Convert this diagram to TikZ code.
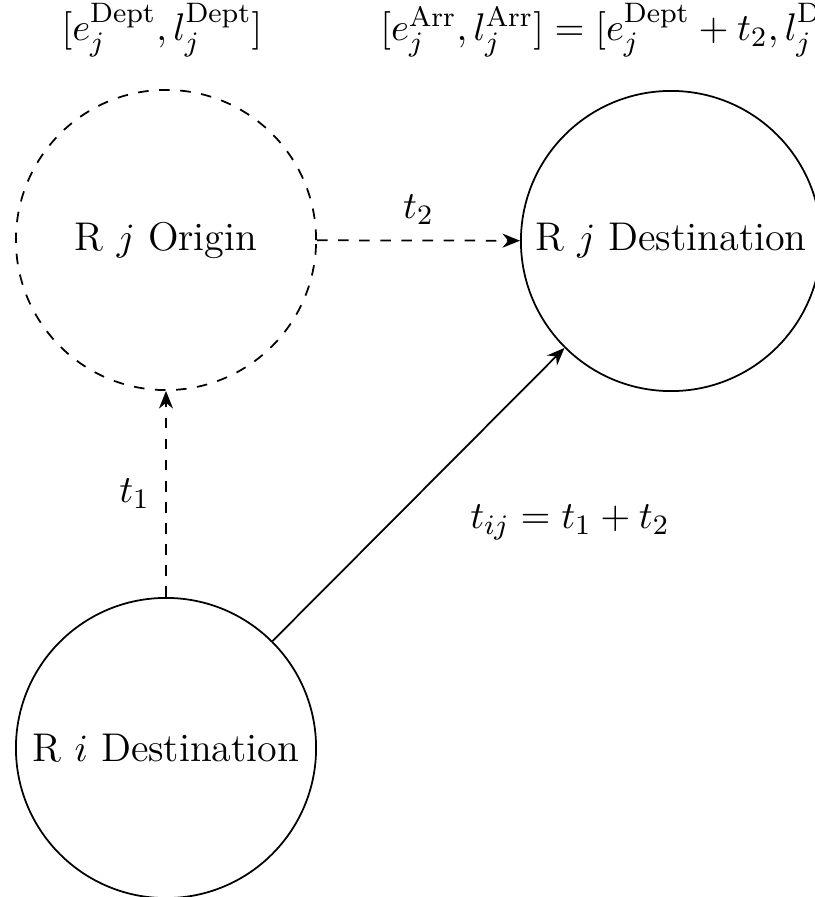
\documentclass[tikz,border=0pt]{standalone}
\usetikzlibrary{arrows.meta}
\begin{document}
\begin{tikzpicture}[x=0.01cm,y=-0.01cm,
  place/.style={circle,draw,line width=0.5pt,minimum size=3.0cm,inner sep=0pt,font=\fontsize{11.4}{13}\selectfont},
  flow/.style={-{Stealth[length=5pt,width=4pt]},line width=0.5pt},
  lab/.style={font=\fontsize{11.2}{13}\selectfont}]
\useasboundingbox (0,0) rectangle (814,897);
\node[place,dashed] (ro) at (166,240) {R $j$ Origin};
\node[place] (rd) at (671,241) {R $j$ Destination};
\node[place] (ri) at (166,748) {R $i$ Destination};
\node[lab] (tdept) at (162,30) {$[e_j^{\mathrm{Dept}},l_j^{\mathrm{Dept}}]$};
\node[lab] (tarr) at (666,30) {$[e_j^{\mathrm{Arr}},l_j^{\mathrm{Arr}}]=[e_j^{\mathrm{Dept}}+t_2,l_j^{\mathrm{Dept}}+t_2]$};
\draw[flow,dashed] (ro) -- node[lab,above=1pt] {$t_2$} (rd);
\draw[flow,dashed] (ri) -- node[lab,left=1pt] {$t_1$} (ro);
\draw[flow] (ri) -- (rd);
\node[lab] (tij) at (570,522) {$t_{ij}=t_1+t_2$};
\end{tikzpicture}
\end{document}
